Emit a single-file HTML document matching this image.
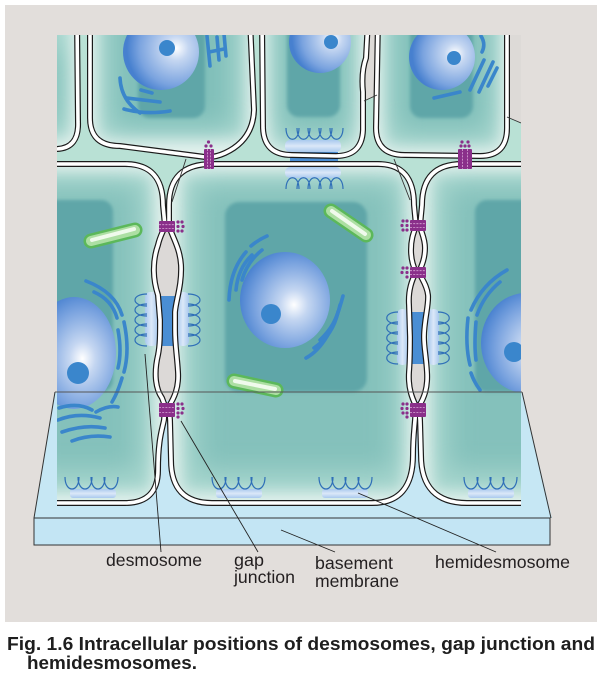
<!DOCTYPE html>
<html><head><meta charset="utf-8"><style>
html,body{margin:0;padding:0;background:#fff;}
svg{display:block;}
</style></head><body>
<svg width="606" height="683" viewBox="0 0 606 683" xmlns="http://www.w3.org/2000/svg">
<defs>
 <filter id="bl" x="-60%" y="-60%" width="220%" height="220%"><feGaussianBlur stdDeviation="13"/></filter>
 <filter id="bo" x="-60%" y="-60%" width="220%" height="220%"><feGaussianBlur stdDeviation="8"/></filter>
 <filter id="bs" x="-20%" y="-20%" width="140%" height="140%"><feGaussianBlur stdDeviation="1.5"/></filter>
 <radialGradient id="ng" cx="0.6" cy="0.55" r="0.62">
   <stop offset="0" stop-color="#ffffff"/>
   <stop offset="0.25" stop-color="#c4d6f1"/>
   <stop offset="0.7" stop-color="#7aa3df"/>
   <stop offset="1" stop-color="#4780cf"/>
 </radialGradient>
 <radialGradient id="ng2" cx="0.7" cy="0.45" r="0.65">
   <stop offset="0" stop-color="#ffffff"/>
   <stop offset="0.25" stop-color="#c4d6f1"/>
   <stop offset="0.75" stop-color="#7aa3df"/>
   <stop offset="1" stop-color="#4780cf"/>
 </radialGradient>
 <linearGradient id="pl" x1="0" y1="0" x2="1" y2="0">
   <stop offset="0" stop-color="#a9c9ee"/><stop offset="0.5" stop-color="#dbe8f8"/><stop offset="1" stop-color="#a9c9ee"/>
 </linearGradient>
 <linearGradient id="plv" x1="0" y1="0" x2="0" y2="1">
   <stop offset="0" stop-color="#a9c9ee"/><stop offset="0.5" stop-color="#dbe8f8"/><stop offset="1" stop-color="#a9c9ee"/>
 </linearGradient>
 <clipPath id="area"><rect x="57" y="35" width="464" height="475"/></clipPath>
 <clipPath id="kL"><path d="M40,20 L77,20 L78,122 Q79,148 57,149 L40,149 Z"/></clipPath>
 <clipPath id="k2"><path d="M90,20 L90,118 Q90,146 120,146 L205,157 Q214,158 225,153 Q253,140 254,110 L250,20 Z"/></clipPath>
 <clipPath id="k3"><path d="M262,20 L263,128 Q264,155 292,155 L336,156 Q362,156 363,130 L363,92 Q361,72 366,58 L368,20 Z"/></clipPath>
 <clipPath id="k4"><path d="M378,20 L376,128 Q376,155 405,155 L480,156 Q507,156 507,128 L507,20 Z"/></clipPath>
 <clipPath id="kA"><path d="M40,164 L125,164 Q163,164 163,205 L165,226 C163,232 160,236 158,245 C152,262 153,280 158,295 L160,320 C160,335 160,345 158,355 C154,372 155,388 162,398 L165,406 L164,420 C162,430 158,440 158,470 Q158,503 125,503 L40,503 Z"/></clipPath>
 <clipPath id="kB"><path d="M169,205 Q169,164 212,164 L378,164 Q414,164 414,205 L416,226 C414,232 411,238 411,250 C411,260 413,266 416,272 C412,280 408,290 409,305 L410,337 C410,350 410,360 409,372 C408,388 412,398 416,406 L415,420 C414,432 413,440 413,455 Q413,503 372,503 L212,503 Q171,503 171,460 L170,420 L169,406 C174,398 179,388 178,372 C177,355 175,345 175,330 L175,312 C176,300 182,285 181,265 C180,248 172,236 169,226 Z"/></clipPath>
 <clipPath id="kC"><path d="M462,164 L560,164 L560,503 L467,503 Q421,503 421,455 L420,420 L419,406 C424,398 428,388 427,372 C426,355 424,348 424,337 C424,320 429,305 428,295 C427,285 421,278 419,272 C422,265 425,258 425,248 C425,238 421,232 420,226 L422,205 Q422,164 462,164 Z"/></clipPath>
</defs>

<!-- panel -->
<rect x="5" y="5" width="592" height="617" fill="#e2dedb"/>

<!-- slab -->
<polygon points="55,392 522,392 552,518 34,518" fill="#c6e7f4"/>
<rect x="34" y="518" width="516" height="27" fill="#c3e5f4" stroke="#333" stroke-width="1"/>
<line x1="55" y1="392" x2="34" y2="518" stroke="#333" stroke-width="1"/>
<line x1="522" y1="392" x2="551" y2="518" stroke="#333" stroke-width="1"/>

<g clip-path="url(#area)">
 <rect x="57" y="35" width="464" height="180" fill="#b9e1d5"/>
 <polygon points="360,20 383,20 378,95 364,101" fill="#dddad7"/>
 <polygon points="505,20 530,20 530,126 507,117" fill="#dddad7"/>
 <rect x="148" y="226" width="44" height="174" fill="#dcd9d7"/>
 <rect x="398" y="226" width="42" height="174" fill="#dcd9d7"/>

 <!-- cell fills -->
 <g clip-path="url(#kL)"><rect x="40" y="20" width="45" height="135" fill="#e4f2ee"/><rect x="30" y="20" width="40" height="118" fill="#a6d5cd" filter="url(#bo)"/><rect x="30" y="50" width="28" height="75" fill="#7dbdb7" filter="url(#bl)"/></g>
 <g clip-path="url(#k2)"><rect x="85" y="15" width="175" height="140" fill="#e4f2ee"/><rect x="99" y="10" width="146" height="128" fill="#a6d5cd" filter="url(#bo)"/><rect x="112" y="5" width="120" height="122" fill="#80bfb9" filter="url(#bl)"/><rect x="138" y="15" width="67" height="103" rx="12" fill="#5fa6a8" filter="url(#bs)"/></g>
 <g clip-path="url(#k3)"><rect x="258" y="15" width="115" height="145" fill="#e4f2ee"/><rect x="271" y="10" width="85" height="136" fill="#a6d5cd" filter="url(#bo)"/><rect x="280" y="5" width="68" height="126" fill="#80bfb9" filter="url(#bl)"/><rect x="287" y="15" width="53" height="102" rx="12" fill="#5fa6a8" filter="url(#bs)"/></g>
 <g clip-path="url(#k4)"><rect x="372" y="15" width="140" height="145" fill="#e4f2ee"/><rect x="385" y="10" width="114" height="136" fill="#a6d5cd" filter="url(#bo)"/><rect x="396" y="5" width="92" height="126" fill="#80bfb9" filter="url(#bl)"/><rect x="410" y="15" width="63" height="103" rx="12" fill="#5fa6a8" filter="url(#bs)"/></g>
 <g clip-path="url(#kA)"><rect x="35" y="160" width="135" height="350" fill="#e4f2ee"/><rect x="30" y="174" width="122" height="318" fill="#a6d5cd" filter="url(#bo)"/><rect x="30" y="186" width="108" height="285" fill="#84c1bb" filter="url(#bl)"/><rect x="35" y="200" width="78" height="192" rx="12" fill="#5fa6a8" filter="url(#bs)"/></g>
 <g clip-path="url(#kB)"><rect x="165" y="160" width="255" height="350" fill="#e4f2ee"/><rect x="182" y="174" width="222" height="318" fill="#a6d5cd" filter="url(#bo)"/><rect x="198" y="186" width="196" height="285" fill="#84c1bb" filter="url(#bl)"/><rect x="225" y="202" width="142" height="190" rx="14" fill="#5fa6a8" filter="url(#bs)"/></g>
 <g clip-path="url(#kC)"><rect x="415" y="160" width="150" height="350" fill="#e4f2ee"/><rect x="432" y="174" width="130" height="318" fill="#a6d5cd" filter="url(#bo)"/><rect x="448" y="186" width="115" height="285" fill="#84c1bb" filter="url(#bl)"/><rect x="475" y="200" width="90" height="192" rx="12" fill="#5fa6a8" filter="url(#bs)"/></g>

 <!-- nuclei -->
 <circle cx="161" cy="52" r="38" fill="url(#ng2)"/><circle cx="167" cy="48" r="8" fill="#3a86cc"/>
 <circle cx="320" cy="42" r="31" fill="url(#ng2)"/><circle cx="331" cy="42" r="7" fill="#3a86cc"/>
 <circle cx="442" cy="57" r="33" fill="url(#ng2)"/><circle cx="454" cy="58" r="7" fill="#3a86cc"/>
 <ellipse cx="74" cy="353" rx="42" ry="56" fill="url(#ng)"/><circle cx="78" cy="373" r="11" fill="#3a86cc"/>
 <ellipse cx="285" cy="300" rx="45" ry="48" fill="url(#ng)"/><circle cx="271" cy="314" r="10" fill="#3a86cc"/>
 <ellipse cx="526" cy="343" rx="45" ry="50" fill="url(#ng)"/><circle cx="514" cy="352" r="10" fill="#3a86cc"/>

 <!-- ER -->
 <g fill="none" stroke="#3a86cb" stroke-width="3.6" stroke-linecap="round">
  <path d="M120,78 Q121,100 140,113"/>
  <path d="M127,98 L160,102"/>
  <path d="M124,109 Q145,115 170,111"/>
  <path d="M141,90 L152,93"/>
  <path d="M207,36 L210,66"/>
  <path d="M217,37 L219,60"/>
  <path d="M209,52 L224,49"/>
  <path d="M224,34 L226,56"/>
  <path d="M481,36 Q486,44 482,52"/>
  <path d="M470,90 L484,60"/>
  <path d="M479,92 L493,62"/>
  <path d="M488,86 L497,68"/>
  <path d="M434,98 L460,92"/>
  <path d="M229,300 Q230,270 246,252"/>
  <path d="M251,246 Q258,240 267,236"/>
  <path d="M236,290 Q238,268 252,255"/>
  <path d="M242,280 Q247,262 262,250"/>
  <path d="M306,358 Q330,345 343,296"/>
  <path d="M314,348 Q333,335 338,312"/>
  <path d="M320,340 Q336,325 340,305"/>
  <path d="M86,281 Q115,292 122,315"/>
  <path d="M94,292 Q112,300 117,318"/>
  <path d="M124,322 Q130,350 124,372"/>
  <path d="M118,330 Q122,352 118,368"/>
  <path d="M122,378 Q118,392 112,402"/>
  <path d="M59,408 Q78,402 92,410"/>
  <path d="M58,420 Q78,412 100,418"/>
  <path d="M62,432 Q85,424 105,428"/>
  <path d="M72,441 Q90,434 110,437"/>
  <path d="M96,412 Q108,405 118,407"/>
  <path d="M507,270 Q482,284 471,310"/>
  <path d="M500,282 Q484,295 477,315"/>
  <path d="M468,318 Q465,345 470,365"/>
  <path d="M476,322 Q474,345 476,360"/>
  <path d="M471,373 Q474,382 480,390"/>
 </g>

 <!-- mitochondria -->
 <g stroke-linecap="round">
  <line x1="91" y1="241" x2="135" y2="230" stroke="#5cb85a" stroke-width="15"/>
  <line x1="91" y1="241" x2="135" y2="230" stroke="#addfa3" stroke-width="10"/>
  <line x1="92" y1="240" x2="134" y2="229" stroke="#f0faec" stroke-width="4"/>
  <line x1="331" y1="211" x2="366" y2="235" stroke="#5cb85a" stroke-width="15"/>
  <line x1="331" y1="211" x2="366" y2="235" stroke="#addfa3" stroke-width="10"/>
  <line x1="332" y1="211" x2="365" y2="234" stroke="#f0faec" stroke-width="4"/>
  <line x1="234" y1="381" x2="276" y2="390" stroke="#5cb85a" stroke-width="15"/>
  <line x1="234" y1="381" x2="276" y2="390" stroke="#addfa3" stroke-width="10"/>
  <line x1="235" y1="381" x2="275" y2="389" stroke="#f0faec" stroke-width="4"/>
 </g>

 <!-- desmosome cores & plaques -->
 <rect x="160" y="296" width="15" height="50" fill="#4a8ed4"/>
 <rect x="409" y="312" width="17" height="52" fill="#4a8ed4"/>
 <rect x="290" y="152" width="48" height="15" fill="#4a8ed4"/>
 <rect x="145" y="292" width="13" height="54" rx="5" fill="url(#pl)"/>
 <rect x="177" y="292" width="12" height="54" rx="5" fill="url(#pl)"/>
 <rect x="397" y="309" width="11" height="56" rx="5" fill="url(#pl)"/>
 <rect x="428" y="309" width="11" height="56" rx="5" fill="url(#pl)"/>
 <rect x="285" y="140" width="56" height="12" rx="5" fill="url(#plv)"/>
 <rect x="285" y="167" width="56" height="11" rx="5" fill="url(#plv)"/>
 <!-- hemidesmosome plaques -->
 <rect x="70" y="489" width="46" height="9" rx="3" fill="url(#plv)"/>
 <rect x="216" y="489" width="46" height="9" rx="3" fill="url(#plv)"/>
 <rect x="322" y="489" width="46" height="9" rx="3" fill="url(#plv)"/>
 <rect x="468" y="489" width="46" height="9" rx="3" fill="url(#plv)"/>

 <!-- membranes -->
 <g fill="none" stroke="#1a1a1a" stroke-width="6">
  <path d="M40,20 L77,20 L78,122 Q79,148 57,149 L40,149"/>
  <path d="M90,20 L90,118 Q90,146 120,146 L205,157 Q214,158 225,153 Q253,140 254,110 L250,20"/>
  <path d="M262,20 L263,128 Q264,155 292,155 L336,156 Q362,156 363,130 L363,92 Q361,72 366,58 L368,20"/>
  <path d="M378,20 L376,128 Q376,155 405,155 L480,156 Q507,156 507,128 L507,20"/>
 </g>
 <g fill="none" stroke="#fff" stroke-width="3.6">
  <path d="M40,20 L77,20 L78,122 Q79,148 57,149 L40,149"/>
  <path d="M90,20 L90,118 Q90,146 120,146 L205,157 Q214,158 225,153 Q253,140 254,110 L250,20"/>
  <path d="M262,20 L263,128 Q264,155 292,155 L336,156 Q362,156 363,130 L363,92 Q361,72 366,58 L368,20"/>
  <path d="M378,20 L376,128 Q376,155 405,155 L480,156 Q507,156 507,128 L507,20"/>
 </g>
 <g fill="none" stroke="#1a1a1a" stroke-width="6">
  <path d="M40,164 L125,164 Q163,164 163,205 L165,226 C163,232 160,236 158,245 C152,262 153,280 158,295 L160,320 C160,335 160,345 158,355 C154,372 155,388 162,398 L165,406 L164,420 C162,430 158,440 158,470 Q158,503 125,503 L40,503"/>
  <path d="M169,205 Q169,164 212,164 L378,164 Q414,164 414,205 L416,226 C414,232 411,238 411,250 C411,260 413,266 416,272 C412,280 408,290 409,305 L410,337 C410,350 410,360 409,372 C408,388 412,398 416,406 L415,420 C414,432 413,440 413,455 Q413,503 372,503 L212,503 Q171,503 171,460 L170,420 L169,406 C174,398 179,388 178,372 C177,355 175,345 175,330 L175,312 C176,300 182,285 181,265 C180,248 172,236 169,226 Z"/>
  <path d="M560,164 L462,164 Q422,164 422,205 L420,226 C421,232 425,238 425,248 C425,258 422,265 419,272 C421,278 427,285 428,295 C429,305 424,320 424,337 C424,348 426,355 427,372 C428,388 424,398 419,406 L420,420 L421,455 Q421,503 467,503 L560,503"/>
 </g>
 <g fill="none" stroke="#fff" stroke-width="3.6">
  <path d="M40,164 L125,164 Q163,164 163,205 L165,226 C163,232 160,236 158,245 C152,262 153,280 158,295 L160,320 C160,335 160,345 158,355 C154,372 155,388 162,398 L165,406 L164,420 C162,430 158,440 158,470 Q158,503 125,503 L40,503"/>
  <path d="M169,205 Q169,164 212,164 L378,164 Q414,164 414,205 L416,226 C414,232 411,238 411,250 C411,260 413,266 416,272 C412,280 408,290 409,305 L410,337 C410,350 410,360 409,372 C408,388 412,398 416,406 L415,420 C414,432 413,440 413,455 Q413,503 372,503 L212,503 Q171,503 171,460 L170,420 L169,406 C174,398 179,388 178,372 C177,355 175,345 175,330 L175,312 C176,300 182,285 181,265 C180,248 172,236 169,226 Z"/>
  <path d="M560,164 L462,164 Q422,164 422,205 L420,226 C421,232 425,238 425,248 C425,258 422,265 419,272 C421,278 427,285 428,295 C429,305 424,320 424,337 C424,348 426,355 427,372 C428,388 424,398 419,406 L420,420 L421,455 Q421,503 467,503 L560,503"/>
 </g>

 <!-- thin outline lines -->
 <g stroke="#333" stroke-width="0.9" fill="none">
  <line x1="186" y1="159" x2="172" y2="202"/>
  <line x1="394" y1="159" x2="410" y2="200"/>
  <line x1="364" y1="101" x2="377" y2="95"/>
  <line x1="507" y1="117" x2="521" y2="123"/>
 </g>

 <!-- filaments -->
 <g fill="none" stroke="#2f6fb8" stroke-width="1.2">
  <path d="M147,294 C131,294 131,306 147,306 M147,304 C131,304 131,316 147,316 M147,314 C131,314 131,326 147,326 M147,324 C131,324 131,336 147,336 M147,334 C131,334 131,346 147,346"/>
  <path d="M188,294 C204,294 204,306 188,306 M188,304 C204,304 204,316 188,316 M188,314 C204,314 204,326 188,326 M188,324 C204,324 204,336 188,336 M188,334 C204,334 204,346 188,346"/>
  <path d="M398,312 C383,312 383,324 398,324 M398,322 C383,322 383,334 398,334 M398,332 C383,332 383,344 398,344 M398,342 C383,342 383,354 398,354 M398,352 C383,352 383,364 398,364"/>
  <path d="M438,312 C453,312 453,324 438,324 M438,322 C453,322 453,334 438,334 M438,332 C453,332 453,344 438,344 M438,342 C453,342 453,354 438,354 M438,352 C453,352 453,364 438,364"/>
  <path d="M286,128 C286,143 299,143 299,128 M297,128 C297,143 310,143 310,128 M308,128 C308,143 321,143 321,128 M319,128 C319,143 332,143 332,128 M330,128 C330,143 343,143 343,128"/>
  <path d="M286,189 C286,174 299,174 299,189 M297,189 C297,174 310,174 310,189 M308,189 C308,174 321,174 321,189 M319,189 C319,174 332,174 332,189 M330,189 C330,174 343,174 343,189"/>
  <path d="M65,477 C65,493 79,493 79,477 M78,477 C78,493 92,493 92,477 M91,477 C91,493 105,493 105,477 M104,477 C104,493 118,493 118,477"/>
  <path d="M212,477 C212,493 226,493 226,477 M225,477 C225,493 239,493 239,477 M238,477 C238,493 252,493 252,477 M251,477 C251,493 265,493 265,477"/>
  <path d="M319,477 C319,493 333,493 333,477 M332,477 C332,493 346,493 346,477 M345,477 C345,493 359,493 359,477 M358,477 C358,493 372,493 372,477"/>
  <path d="M464,477 C464,493 478,493 478,477 M477,477 C477,493 491,493 491,477 M490,477 C490,493 504,493 504,477 M503,477 C503,493 517,493 517,477"/>
 </g>

 <!-- gap junctions -->
 <g fill="#8a2f8a">
  <rect x="159" y="221" width="16" height="11" rx="1"/>
  <circle cx="178" cy="222" r="1.6"/><circle cx="182" cy="222" r="1.6"/><circle cx="178" cy="226.5" r="1.6"/><circle cx="183" cy="226.5" r="1.6"/><circle cx="178" cy="231" r="1.6"/><circle cx="182" cy="231" r="1.6"/>
  <rect x="159" y="403" width="16" height="14" rx="1"/>
  <circle cx="178" cy="404" r="1.6"/><circle cx="182" cy="404" r="1.6"/><circle cx="178" cy="408.5" r="1.6"/><circle cx="183" cy="408.5" r="1.6"/><circle cx="178" cy="413" r="1.6"/><circle cx="182" cy="413" r="1.6"/><circle cx="178" cy="417" r="1.6"/>
  <rect x="410" y="220" width="16" height="11" rx="1"/>
  <circle cx="407" cy="221" r="1.6"/><circle cx="403" cy="221" r="1.6"/><circle cx="407" cy="225.5" r="1.6"/><circle cx="402" cy="225.5" r="1.6"/><circle cx="407" cy="230" r="1.6"/><circle cx="403" cy="230" r="1.6"/>
  <rect x="410" y="267" width="16" height="11" rx="1"/>
  <circle cx="407" cy="268" r="1.6"/><circle cx="403" cy="268" r="1.6"/><circle cx="407" cy="272.5" r="1.6"/><circle cx="402" cy="272.5" r="1.6"/><circle cx="407" cy="277" r="1.6"/>
  <rect x="410" y="403" width="16" height="14" rx="1"/>
  <circle cx="407" cy="404" r="1.6"/><circle cx="403" cy="404" r="1.6"/><circle cx="407" cy="408.5" r="1.6"/><circle cx="402" cy="408.5" r="1.6"/><circle cx="407" cy="413" r="1.6"/><circle cx="403" cy="413" r="1.6"/><circle cx="407" cy="417" r="1.6"/>
  <rect x="204" y="149" width="10" height="20" rx="1"/>
  <circle cx="206" cy="146" r="1.6"/><circle cx="211" cy="146" r="1.6"/><circle cx="208.5" cy="142" r="1.6"/>
  <rect x="458" y="149" width="14" height="20" rx="1"/>
  <circle cx="461" cy="146" r="1.6"/><circle cx="465" cy="146" r="1.6"/><circle cx="469" cy="146" r="1.6"/><circle cx="462" cy="142" r="1.6"/><circle cx="468" cy="142" r="1.6"/>
 </g>
 <g stroke="#d8a6d6" stroke-width="0.8" stroke-dasharray="2 1.2">
  <line x1="159" y1="224.7" x2="175" y2="224.7"/><line x1="159" y1="228.4" x2="175" y2="228.4"/>
  <line x1="159" y1="407.5" x2="175" y2="407.5"/><line x1="159" y1="412.5" x2="175" y2="412.5"/>
  <line x1="410" y1="223.7" x2="426" y2="223.7"/><line x1="410" y1="227.4" x2="426" y2="227.4"/>
  <line x1="410" y1="270.7" x2="426" y2="270.7"/><line x1="410" y1="274.4" x2="426" y2="274.4"/>
  <line x1="410" y1="407.5" x2="426" y2="407.5"/><line x1="410" y1="412.5" x2="426" y2="412.5"/>
  <line x1="207.5" y1="149" x2="207.5" y2="169"/><line x1="210.5" y1="149" x2="210.5" y2="169"/>
  <line x1="462.5" y1="149" x2="462.5" y2="169"/><line x1="467.5" y1="149" x2="467.5" y2="169"/>
 </g>
</g>

<!-- slab back edge -->
<line x1="55" y1="392" x2="522" y2="392" stroke="#555" stroke-width="1"/>

<!-- leader lines -->
<g stroke="#222" stroke-width="0.9">
 <line x1="145" y1="354" x2="161" y2="552"/>
 <line x1="181" y1="421" x2="258" y2="552"/>
 <line x1="281" y1="530" x2="335" y2="552"/>
 <line x1="358" y1="493" x2="496" y2="552"/>
</g>

<!-- labels -->
<g font-family="Liberation Sans, Arial, sans-serif" font-size="17.5" fill="#231f20">
 <text x="106" y="566" textLength="96" lengthAdjust="spacingAndGlyphs">desmosome</text>
 <text x="234" y="566" textLength="30" lengthAdjust="spacingAndGlyphs">gap</text>
 <text x="234" y="583" textLength="61" lengthAdjust="spacingAndGlyphs">junction</text>
 <text x="315" y="569" textLength="78" lengthAdjust="spacingAndGlyphs">basement</text>
 <text x="315" y="587" textLength="84" lengthAdjust="spacingAndGlyphs">membrane</text>
 <text x="435" y="568" textLength="135" lengthAdjust="spacingAndGlyphs">hemidesmosome</text>
</g>

<!-- caption -->
<g font-family="Liberation Sans, Arial, sans-serif" font-size="18" font-weight="bold" fill="#1e1e1e">
 <text x="7" y="650" textLength="588" lengthAdjust="spacingAndGlyphs">Fig. 1.6 Intracellular positions of desmosomes, gap junction and</text>
 <text x="27" y="669" textLength="170" lengthAdjust="spacingAndGlyphs">hemidesmosomes.</text>
</g>
</svg>
</body></html>
